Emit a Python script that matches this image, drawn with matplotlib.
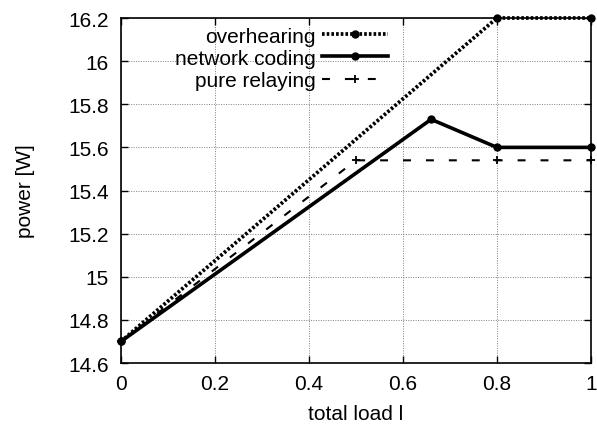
import numpy as np
import matplotlib.pyplot as plt

plt.rcParams['font.family'] = ['Liberation Sans', 'DejaVu Sans']

# ---------------------------- Data ---------------------------- #
loadOverhearing = [0.0, 0.8, 1.0]
powerOverhearing = [14.7, 16.2, 16.2]

loadCoding = [0.0, 0.66, 0.8, 1.0]
powerCoding = [14.7, 15.73, 15.6, 15.6]

loadRelaying = [0.0, 0.5, 0.8, 1.0]
powerRelaying = [14.7, 15.54, 15.54, 15.54]

xTicks = [0, 0.2, 0.4, 0.6, 0.8, 1]
xTickLabels = ['0', '0.2', '0.4', '0.6', '0.8', '1']
yTicks = [14.6, 14.8, 15, 15.2, 15.4, 15.6, 15.8, 16, 16.2]
yTickLabels = ['14.6', '14.8', '15', '15.2', '15.4', '15.6', '15.8', '16', '16.2']

# ---------------------------- Plot ---------------------------- #
fig = plt.figure(figsize=(5.97, 4.27), dpi=100)
ax = fig.add_axes([0.2027, 0.1475, 0.787, 0.808])

ax.plot(loadOverhearing, powerOverhearing, color='black', linestyle=(0, (0.7, 0.55)),
        linewidth=2.7, marker='o', markersize=5, label='overhearing', clip_on=False)
ax.plot(loadCoding, powerCoding, color='black', linestyle='-',
        linewidth=2.6, marker='o', markersize=5, label='network coding', clip_on=False)
ax.plot(loadRelaying, powerRelaying, color='black', linestyle=(0, (3.8, 7.2)),
        linewidth=1.5, marker='+', markersize=6, markeredgewidth=1.3, label='pure relaying',
        clip_on=False)

ax.set_xlim(0, 1)
ax.set_ylim(14.6, 16.2)
ax.set_xticks(xTicks)
ax.set_xticklabels(xTickLabels)
ax.set_yticks(yTicks)
ax.set_yticklabels(yTickLabels)
ax.tick_params(direction='in', top=True, right=True, labelsize=15, length=5, width=1)
ax.tick_params(axis='x', pad=8)
ax.tick_params(axis='y', pad=9)
ax.grid(True, color='#808080', linestyle=(0, (1, 1.5)), linewidth=0.7)
ax.set_axisbelow(True)
for spine in ax.spines.values():
    spine.set_linewidth(1.2)

ax.set_xlabel('total load l', fontsize=15, labelpad=8)
ax.set_ylabel('power [W]', fontsize=15, labelpad=24)

ax.legend(loc='upper right', bbox_to_anchor=(0.569, 0.975), frameon=False, markerfirst=False,
          fontsize=15, handlelength=3.2, labelspacing=0.15, handletextpad=0.3,
          borderpad=0, borderaxespad=0)

fig.savefig('out.png', dpi=100)
